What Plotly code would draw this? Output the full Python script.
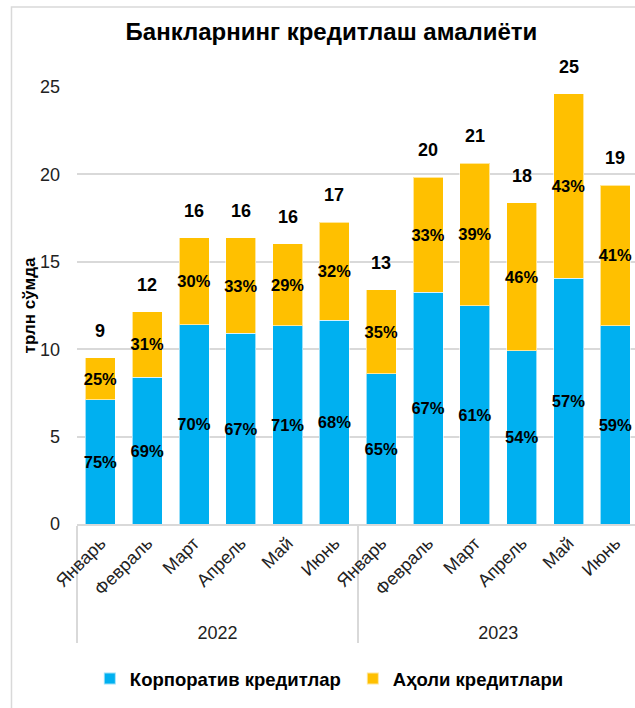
import plotly.graph_objects as go

years = ["2022"] * 6 + ["2023"] * 6
months = ["Январь", "Февраль", "Март", "Апрель", "Май", "Июнь"] * 2
corporate = [7.1, 8.4, 11.4, 10.9, 11.35, 11.65, 8.6, 13.25, 12.5, 9.9, 14.05, 11.35]
household = [2.4, 3.75, 4.98, 5.48, 4.69, 5.61, 4.79, 6.58, 8.13, 8.48, 10.55, 8.03]
corp_pct = ["75%", "69%", "70%", "67%", "71%", "68%", "65%", "67%", "61%", "54%", "57%", "59%"]
hh_pct = ["25%", "31%", "30%", "33%", "29%", "32%", "35%", "33%", "39%", "46%", "43%", "41%"]
total_labels = ["9", "12", "16", "16", "16", "17", "13", "20", "21", "18", "25", "19"]

FONT = "Liberation Sans, Arial, sans-serif"
BLUE = "#00B0F0"
GOLD = "#FFC000"

fig = go.Figure()
fig.add_trace(go.Bar(
    x=[years, months], y=corporate, name="Корпоратив кредитлар",
    marker=dict(color=BLUE, line=dict(color="rgba(255,255,255,0.6)", width=1)),
    text=corp_pct, textposition="inside", insidetextanchor="middle",
    constraintext="none", textangle=0,
    textfont=dict(family=FONT, size=16.5, color="black", weight="bold"),
))
fig.add_trace(go.Bar(
    x=[years, months], y=household, name="Аҳоли кредитлари",
    marker=dict(color=GOLD, line=dict(color="rgba(255,255,255,0.6)", width=1)),
    text=hh_pct, textposition="inside", insidetextanchor="middle",
    constraintext="none", textangle=0,
    textfont=dict(family=FONT, size=16.5, color="black", weight="bold"),
))

totals = [c + h for c, h in zip(corporate, household)]
for i, (t, lab) in enumerate(zip(totals, total_labels)):
    fig.add_annotation(x=i, y=t, text=lab, showarrow=False, yanchor="middle",
                       yshift=27, font=dict(family=FONT, size=18, color="black", weight="bold"))

fig.add_shape(type="rect", xref="paper", yref="paper", x0=-0.1174, x1=1.02, y0=-0.45, y1=1.183,
              line=dict(color="#d9d9d9", width=1.5), fillcolor="rgba(0,0,0,0)", layer="below")

fig.update_layout(
    width=635, height=708,
    barmode="stack", bargap=0.36,
    plot_bgcolor="white", paper_bgcolor="white",
    margin=dict(l=77, r=0, t=87, b=184),
    font=dict(family=FONT, color="#222"),
    title=dict(text="<b>Банкларнинг кредитлаш амалиёти</b>", x=0.522, xanchor="center",
               y=1 - 32 / 708, yanchor="middle", font=dict(family=FONT, size=24, color="black")),
    showlegend=True,
    legend=dict(orientation="h", x=0.023, xanchor="left", y=-0.3547, yanchor="middle",
                font=dict(family=FONT, size=18.5, color="black", weight="bold"),
                entrywidth=218, entrywidthmode="pixels",
                itemsizing="constant", traceorder="normal"),
    yaxis=dict(range=[0, 25], dtick=5, showgrid=True, gridcolor="#d9d9d9", gridwidth=1.5,
               zeroline=False, showline=False, ticks="", ticklabelstandoff=16,
               tickfont=dict(family=FONT, size=18, color="#222"),
               title=dict(text="<b>трлн сўмда</b>", standoff=0,
                          font=dict(family=FONT, size=17, color="black"))),
    xaxis=dict(type="multicategory", range=[-0.5, 11.42], tickangle=-45, showline=True,
               linecolor="#d9d9d9", linewidth=1.5, showdividers=True, dividercolor="#d9d9d9",
               dividerwidth=1.5, tickfont=dict(family=FONT, size=18, color="#222")),
)

fig.write_html("out.html", config={"displayModeBar": False},
               post_script="document.body.style.margin='0px';")
